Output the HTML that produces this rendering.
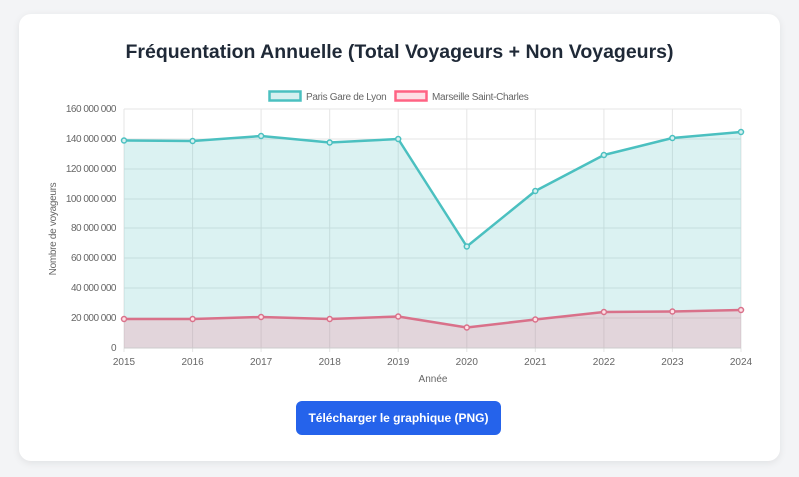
<!DOCTYPE html>
<html><head><meta charset="utf-8"><style>
body{margin:0;background:#f3f4f6;width:799px;height:477px;overflow:hidden;font-family:"Liberation Sans",sans-serif}
.card{position:absolute;left:19px;top:14px;width:761px;height:447px;background:#fff;border-radius:12px;box-shadow:0 2px 8px rgba(0,0,0,0.08)}
h1{position:absolute;left:0;top:41px;width:799px;margin:0;text-align:center;font-size:19.5px;font-weight:bold;color:#1f2937}
.btn{position:absolute;left:296px;top:401px;width:205px;height:34px;background:#2563eb;border-radius:6px;color:#fff;font-size:12px;font-weight:bold;text-align:center;line-height:34px}
svg{position:absolute;left:0;top:0}
</style></head><body>
<div class="card"></div>
<h1>Fréquentation Annuelle (Total Voyageurs + Non Voyageurs)</h1>
<svg width="799" height="477" font-family="Liberation Sans, sans-serif">
<g stroke="#e5e5e5" stroke-width="1">
<line x1="124" y1="109" x2="741" y2="109"/><line x1="124" y1="139" x2="741" y2="139"/><line x1="124" y1="169" x2="741" y2="169"/><line x1="124" y1="199" x2="741" y2="199"/><line x1="124" y1="228" x2="741" y2="228"/><line x1="124" y1="258" x2="741" y2="258"/><line x1="124" y1="288" x2="741" y2="288"/><line x1="124" y1="318" x2="741" y2="318"/>
<line x1="124" y1="109" x2="124" y2="352"/><line x1="192.6" y1="109" x2="192.6" y2="352"/><line x1="261.1" y1="109" x2="261.1" y2="352"/><line x1="329.7" y1="109" x2="329.7" y2="352"/><line x1="398.2" y1="109" x2="398.2" y2="352"/><line x1="466.8" y1="109" x2="466.8" y2="352"/><line x1="535.3" y1="109" x2="535.3" y2="352"/><line x1="603.9" y1="109" x2="603.9" y2="352"/><line x1="672.4" y1="109" x2="672.4" y2="352"/><line x1="741" y1="109" x2="741" y2="352"/>
</g>
<path d="M124,140.5 L192.6,141 L261.1,136 L329.7,142.5 L398.2,139 L466.8,246.5 L535.3,191 L603.9,155 L672.4,138 L741,132 L741,348 L124,348Z" fill="rgba(75,192,192,0.2)"/>
<path d="M124,319 L192.6,319 L261.1,317 L329.7,319 L398.2,316.5 L466.8,327.5 L535.3,319.5 L603.9,312 L672.4,311.5 L741,310 L741,348 L124,348Z" fill="rgba(255,99,132,0.2)"/>
<line x1="124" y1="348" x2="741" y2="348" stroke="#ccc"/>
<polyline points="124,140.5 192.6,141 261.1,136 329.7,142.5 398.2,139 466.8,246.5 535.3,191 603.9,155 672.4,138 741,132" fill="none" stroke="#4bc0c0" stroke-width="2.5" stroke-linejoin="round"/>
<polyline points="124,319 192.6,319 261.1,317 329.7,319 398.2,316.5 466.8,327.5 535.3,319.5 603.9,312 672.4,311.5 741,310" fill="none" stroke="#d9718a" stroke-width="2.5" stroke-linejoin="round"/>
<g fill="#d7f0f0" stroke="#4bc0c0" stroke-width="1.5">
<circle cx="124" cy="140.5" r="2.5"/><circle cx="192.6" cy="141" r="2.5"/><circle cx="261.1" cy="136" r="2.5"/><circle cx="329.7" cy="142.5" r="2.5"/><circle cx="398.2" cy="139" r="2.5"/><circle cx="466.8" cy="246.5" r="2.5"/><circle cx="535.3" cy="191" r="2.5"/><circle cx="603.9" cy="155" r="2.5"/><circle cx="672.4" cy="138" r="2.5"/><circle cx="741" cy="132" r="2.5"/>
</g>
<g fill="#fde0e6" stroke="#d9718a" stroke-width="1.5">
<circle cx="124" cy="319" r="2.5"/><circle cx="192.6" cy="319" r="2.5"/><circle cx="261.1" cy="317" r="2.5"/><circle cx="329.7" cy="319" r="2.5"/><circle cx="398.2" cy="316.5" r="2.5"/><circle cx="466.8" cy="327.5" r="2.5"/><circle cx="535.3" cy="319.5" r="2.5"/><circle cx="603.9" cy="312" r="2.5"/><circle cx="672.4" cy="311.5" r="2.5"/><circle cx="741" cy="310" r="2.5"/>
</g>
<g font-size="10" fill="#666" text-anchor="end" letter-spacing="-0.5">
<text x="116" y="112">160 000 000</text><text x="116" y="142">140 000 000</text><text x="116" y="172">120 000 000</text><text x="116" y="202">100 000 000</text><text x="116" y="231">80 000 000</text><text x="116" y="261">60 000 000</text><text x="116" y="291">40 000 000</text><text x="116" y="321">20 000 000</text><text x="116" y="351">0</text>
</g>
<g font-size="10" fill="#666" text-anchor="middle">
<text x="124" y="365">2015</text><text x="192.6" y="365">2016</text><text x="261.1" y="365">2017</text><text x="329.7" y="365">2018</text><text x="398.2" y="365">2019</text><text x="466.8" y="365">2020</text><text x="535.3" y="365">2021</text><text x="603.9" y="365">2022</text><text x="672.4" y="365">2023</text><text x="741" y="365">2024</text>
<text x="433" y="382">Année</text>
<text transform="translate(56,229) rotate(-90)" letter-spacing="-0.3">Nombre de voyageurs</text>
</g>
<rect x="269.5" y="91.5" width="31" height="9" fill="#d7f0f0" stroke="#4bc0c0" stroke-width="2.5"/>
<text x="306" y="100" font-size="10" fill="#666" letter-spacing="-0.3">Paris Gare de Lyon</text>
<rect x="395.5" y="91.5" width="31" height="9" fill="#fde0e6" stroke="#ff6384" stroke-width="2.5"/>
<text x="432" y="100" font-size="10" fill="#666" letter-spacing="-0.3">Marseille Saint-Charles</text>
</svg>
<div class="btn">Télécharger le graphique (PNG)</div>
</body></html>
